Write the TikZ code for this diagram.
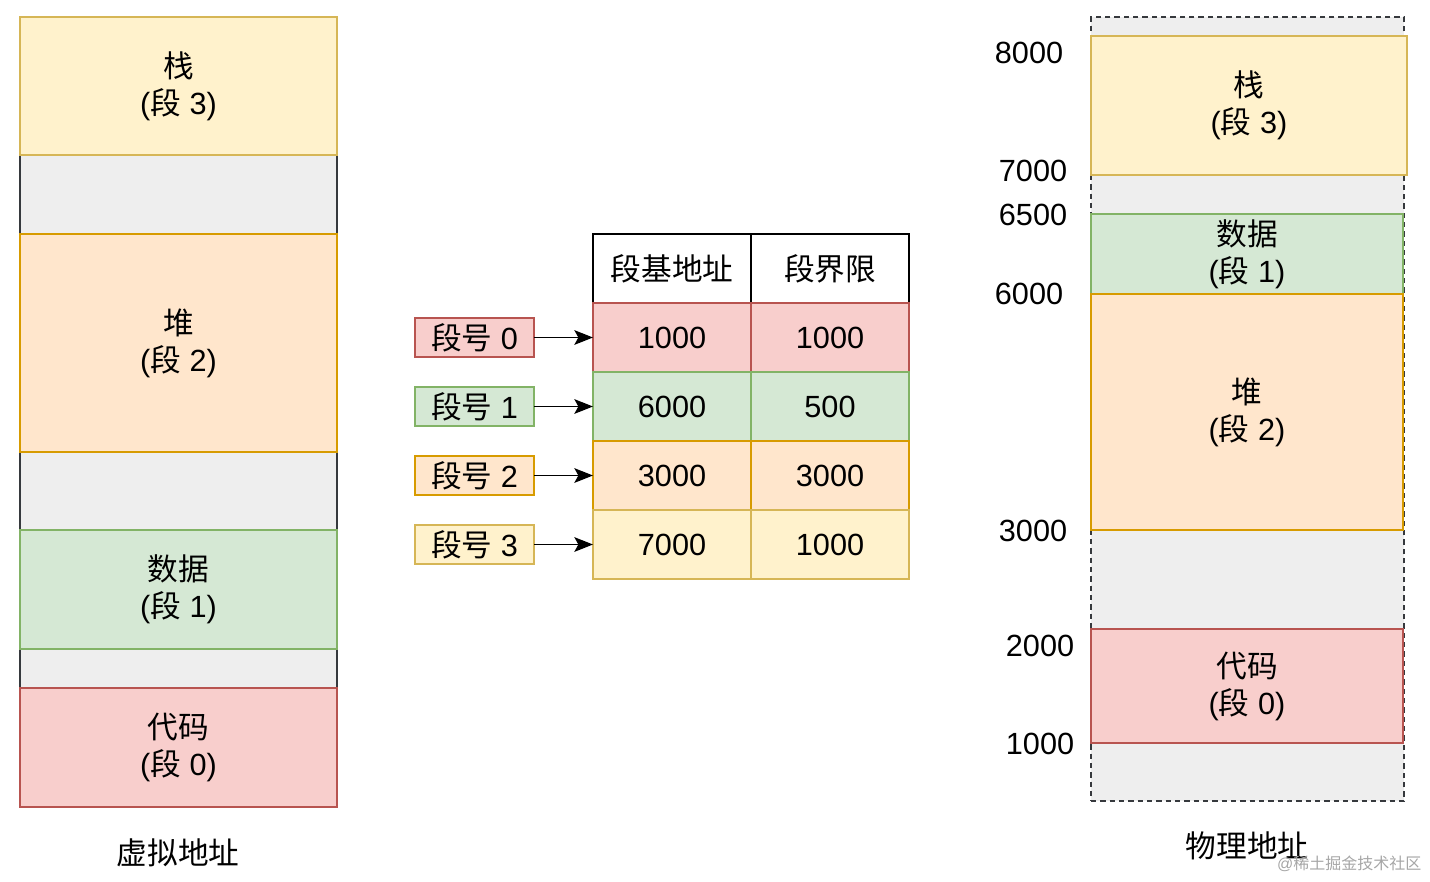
\documentclass[tikz,border=0pt]{standalone}
\usepackage{fontspec}
\setmainfont{Liberation Sans}
\newfontfamily\cjk{Noto Sans CJK SC}
\usepackage{tikz}
\usetikzlibrary{arrows.meta}
\usetikzlibrary{positioning}
\definecolor{yfill}{HTML}{FFF2CC}\definecolor{yline}{HTML}{D6B656}
\definecolor{ofill}{HTML}{FFE6CC}\definecolor{oline}{HTML}{D79B00}
\definecolor{gfill}{HTML}{D5E8D4}\definecolor{gline}{HTML}{82B366}
\definecolor{rfill}{HTML}{F8CECC}\definecolor{rline}{HTML}{B85450}
\definecolor{hole}{HTML}{EEEEEE}\definecolor{holeline}{HTML}{36393D}
\tikzstyle{arrow} = [line width=1.2pt,-{Stealth[length=14pt,width=11pt,inset=3pt]}]
\tikzstyle{blk} = [
    rectangle, outer sep=0pt, line width=1.2pt, align=center, inner sep=0pt,
    font=\fontsize{23}{27.75}\selectfont]
\tikzstyle{stackc} = [blk, fill=yfill, draw=yline]
\tikzstyle{heapc} = [blk, fill=ofill, draw=oline]
\tikzstyle{datac} = [blk, fill=gfill, draw=gline]
\tikzstyle{codec} = [blk, fill=rfill, draw=rline]
\tikzstyle{cell} = [minimum width=118.5pt, minimum height=51.75pt]
\tikzstyle{segno} = [minimum width=89.25pt, minimum height=29.25pt]
\tikzstyle{addr} = [font=\fontsize{23}{27.75}\selectfont]

\begin{document}
\begin{tikzpicture}[x=0.75pt,y=-0.75pt]
\useasboundingbox (0,0) rectangle (1430,881);

% virtual memory
\node (vback) [blk, fill=hole, draw=holeline, minimum width=237.75pt, minimum height=592.5pt]
    at (178.5,412) {};
\node (vstack) [stackc, minimum width=237.75pt, minimum height=103.5pt] at (178.5,86)
    {{\cjk 栈}\\({\cjk 段} 3)};
\node (vheap) [heapc, minimum width=237.75pt, minimum height=163.5pt] at (178.5,343)
    {{\cjk 堆}\\({\cjk 段} 2)};
\node (vdata) [datac, minimum width=237.75pt, minimum height=89.25pt] at (178.5,589.5)
    {{\cjk 数据}\\({\cjk 段} 1)};
\node (vcode) [codec, minimum width=237.75pt, minimum height=89.25pt] at (178.5,747.5)
    {{\cjk 代码}\\({\cjk 段} 0)};
\node (vname) [addr] at (178,853) {\cjk 虚拟地址};

% segment table
\node (hbase) [blk, cell, fill=white, draw=black] at (672,268.5) {\cjk 段基地址};
\node (hlimit) [blk, cell, fill=white, draw=black, right=0pt of hbase] {\cjk 段界限};
\node (base0) [codec, cell, below=0pt of hbase] {1000};
\node (limit0) [codec, cell, right=0pt of base0] {1000};
\node (base1) [datac, cell, below=0pt of base0] {6000};
\node (limit1) [datac, cell, right=0pt of base1] {500};
\node (base2) [heapc, cell, below=0pt of base1] {3000};
\node (limit2) [heapc, cell, right=0pt of base2] {3000};
\node (base3) [stackc, cell, below=0pt of base2] {7000};
\node (limit3) [stackc, cell, right=0pt of base3] {1000};

\node (seg0) [codec, segno, left=44.25pt of base0] {{\cjk 段号} 0};
\node (seg1) [datac, segno, left=44.25pt of base1] {{\cjk 段号} 1};
\node (seg2) [heapc, segno, left=44.25pt of base2] {{\cjk 段号} 2};
\node (seg3) [stackc, segno, left=44.25pt of base3] {{\cjk 段号} 3};
\foreach \i in {0,...,3}
    \draw[arrow] (seg\i) -- (base\i);

% physical memory
\node (pback) [blk, fill=hole, draw=holeline, dash pattern=on 4pt off 3pt,
    minimum width=234.75pt, minimum height=588pt] at (1247.5,409) {};
\node (pstack) [stackc, minimum width=237pt, minimum height=104.25pt] at (1249,105.5)
    {{\cjk 栈}\\({\cjk 段} 3)};
\node (pdata) [datac, minimum width=234pt, minimum height=60pt] at (1247,254)
    {{\cjk 数据}\\({\cjk 段} 1)};
\node (pheap) [heapc, minimum width=234pt, minimum height=177pt] at (1247,412)
    {{\cjk 堆}\\({\cjk 段} 2)};
\node (pcode) [codec, minimum width=234pt, minimum height=85.5pt] at (1247,686)
    {{\cjk 代码}\\({\cjk 段} 0)};
\node (a8000) [addr] at (1029,53) {8000};
\node (a7000) [addr] at (1033,171) {7000};
\node (a6500) [addr] at (1033,215) {6500};
\node (a6000) [addr] at (1029,294) {6000};
\node (a3000) [addr] at (1033,531) {3000};
\node (a2000) [addr] at (1040,646) {2000};
\node (a1000) [addr] at (1040,744) {1000};
\node (pname) [addr] at (1247,846) {\cjk 物理地址};
\node (mark) [font=\fontsize{12}{14}\selectfont, text=black!35, anchor=east]
    at (1426,864) {@{\cjk 稀土掘金技术社区}};
\end{tikzpicture}
\end{document}
